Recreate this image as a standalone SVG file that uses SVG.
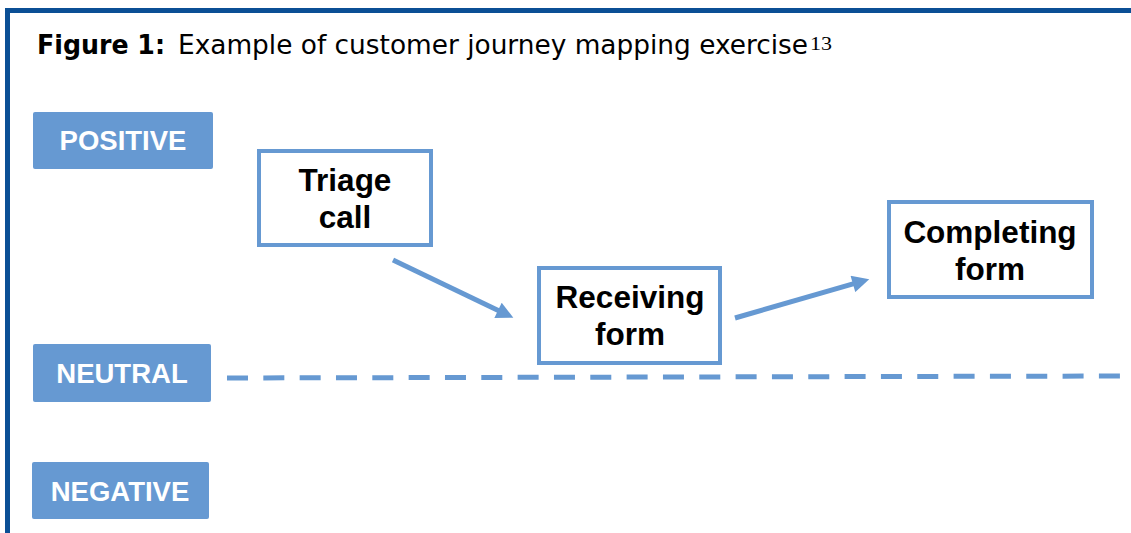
<svg xmlns="http://www.w3.org/2000/svg" width="1131" height="533" viewBox="0 0 1131 533">
<style>
.frame{fill:none;stroke:#0b4f95;stroke-width:5}
.lvl{fill:#6699d2;rx:2}
.lvlt{font-family:"Liberation Sans",Arial,sans-serif;font-weight:bold;font-size:27.5px;fill:#fff;text-anchor:middle}
.node{fill:#fff;stroke:#6699d2;stroke-width:4}
.nodet{font-family:"Liberation Sans",Arial,sans-serif;font-weight:bold;font-size:31.5px;fill:#000;text-anchor:middle}
.conn{stroke:#6699d2;stroke-width:5;fill:none}
.title{font-family:"DejaVu Sans",Verdana,sans-serif;font-size:26px;fill:#000}
</style>
<defs>
<marker id="ah" viewBox="0 0 10 10" refX="2.2" refY="5" markerWidth="18" markerHeight="17" markerUnits="userSpaceOnUse" orient="auto">
<path d="M0,0 L10,5 L0,10 z" fill="#6699d2"/>
</marker>
</defs>
<rect width="1131" height="533" fill="#fff"/>
<path class="frame" d="M7.5,533 V10.5 H1131"/>
<text class="title" x="37" y="54" font-weight="bold" textLength="128" lengthAdjust="spacingAndGlyphs">Figure 1:</text>
<text class="title" x="178" y="54" textLength="630" lengthAdjust="spacingAndGlyphs">Example of customer journey mapping exercise</text>
<text x="810" y="50" font-family="Liberation Serif,'Times New Roman',serif" font-size="18" textLength="22" lengthAdjust="spacingAndGlyphs">13</text>
<g id="positive"><rect class="lvl" x="33" y="112" width="180" height="57"/><text class="lvlt" x="123" y="150">POSITIVE</text></g>
<g id="neutral"><rect class="lvl" x="33" y="344" width="178" height="58"/><text class="lvlt" x="122" y="383">NEUTRAL</text></g>
<g id="negative"><rect class="lvl" x="32" y="462" width="177" height="57"/><text class="lvlt" x="120" y="501">NEGATIVE</text></g>
<g id="triage"><rect class="node" x="259" y="151" width="172" height="94"/><text class="nodet" x="345" y="191">Triage</text><text class="nodet" x="345" y="228">call</text></g>
<g id="receiving"><rect class="node" x="539" y="268" width="181" height="95"/><text class="nodet" x="630" y="308">Receiving</text><text class="nodet" x="630" y="345">form</text></g>
<g id="completing"><rect class="node" x="889" y="202" width="203" height="95"/><text class="nodet" x="990" y="243">Completing</text><text class="nodet" x="990" y="280">form</text></g>
<g id="connectors">
<line class="conn" x1="393" y1="260" x2="501.4" y2="312" marker-end="url(#ah)"/>
<line class="conn" x1="735" y1="318" x2="856.5" y2="282.9" marker-end="url(#ah)"/>
<line class="conn" x1="227" y1="378" x2="1120" y2="376" stroke-width="7" stroke-dasharray="21 15.33"/>
</g>
</svg>
